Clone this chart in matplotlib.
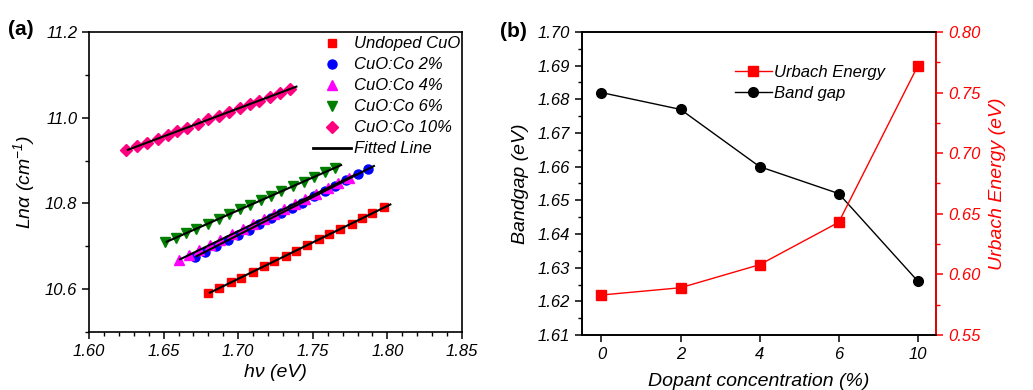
import numpy as np
import matplotlib
matplotlib.use("Agg")
import matplotlib.pyplot as plt
from matplotlib.ticker import MultipleLocator
from matplotlib.lines import Line2D

plt.rcParams['font.family'] = ['Liberation Sans', 'DejaVu Sans']
plt.rcParams['font.style'] = 'italic'
plt.rcParams['mathtext.fontset'] = 'custom'
plt.rcParams['mathtext.rm'] = 'Liberation Sans:italic'
plt.rcParams['mathtext.it'] = 'Liberation Sans:italic'
plt.rcParams['mathtext.default'] = 'it'

# (a) Urbach plots: ln(alpha) vs photon energy
hv_undoped = [1.680, 1.687, 1.695, 1.702, 1.710, 1.717, 1.724, 1.732, 1.739,
              1.746, 1.754, 1.761, 1.768, 1.776, 1.783, 1.790, 1.798]
ln_undoped = [10.590, 10.602, 10.616, 10.627, 10.641, 10.653, 10.665, 10.678, 10.690,
              10.702, 10.716, 10.728, 10.740, 10.753, 10.765, 10.777, 10.791]

hv_co2 = [1.671, 1.678, 1.685, 1.693, 1.700, 1.707, 1.714, 1.722, 1.729,
          1.736, 1.743, 1.751, 1.758, 1.765, 1.772, 1.780, 1.787]
ln_co2 = [10.675, 10.687, 10.700, 10.714, 10.726, 10.739, 10.751, 10.765, 10.778,
          10.790, 10.802, 10.817, 10.829, 10.841, 10.854, 10.868, 10.880]

hv_co4 = [1.660, 1.667, 1.674, 1.681, 1.688, 1.696, 1.703, 1.710, 1.717,
          1.724, 1.731, 1.738, 1.745, 1.752, 1.760, 1.767, 1.774]
ln_co4 = [10.668, 10.680, 10.692, 10.703, 10.715, 10.728, 10.740, 10.752, 10.764,
          10.776, 10.787, 10.799, 10.811, 10.823, 10.836, 10.848, 10.860]

hv_co6 = [1.651, 1.658, 1.665, 1.672, 1.680, 1.687, 1.694, 1.701, 1.708,
          1.715, 1.722, 1.729, 1.737, 1.744, 1.751, 1.758, 1.765]
ln_co6 = [10.709, 10.720, 10.730, 10.741, 10.753, 10.764, 10.775, 10.786, 10.796,
          10.807, 10.818, 10.828, 10.841, 10.851, 10.862, 10.873, 10.883]

hv_co10 = [1.625, 1.632, 1.639, 1.646, 1.653, 1.659, 1.666, 1.673, 1.680,
           1.687, 1.694, 1.701, 1.708, 1.714, 1.721, 1.728, 1.735]
ln_co10 = [10.924, 10.933, 10.942, 10.951, 10.960, 10.968, 10.977, 10.986, 10.996,
           11.005, 11.014, 11.023, 11.032, 11.040, 11.049, 11.058, 11.067]

# (b) band gap and Urbach energy vs dopant
dopant_labels = ['0', '2', '4', '6', '10']
bandgap = [1.682, 1.677, 1.660, 1.652, 1.626]
urbach = [0.583, 0.589, 0.608, 0.643, 0.772]

fig = plt.figure(figsize=(10.33, 3.9), dpi=100)
ax1 = fig.add_axes([0.0862, 0.1487, 0.361, 0.7693])
ax2 = fig.add_axes([0.5631, 0.141, 0.343, 0.777])

series = [
    (hv_undoped, ln_undoped, 's', '#ff0000', 6.0, 'Undoped CuO'),
    (hv_co2, ln_co2, 'o', '#0000ff', 6.5, 'CuO:Co 2%'),
    (hv_co4, ln_co4, '^', '#ff00ff', 7.0, 'CuO:Co 4%'),
    (hv_co6, ln_co6, 'v', '#007f00', 7.0, 'CuO:Co 6%'),
    (hv_co10, ln_co10, 'D', '#ff0080', 6.0, 'CuO:Co 10%'),
]
handles = []
for x, y, m, c, ms, lab in series:
    h, = ax1.plot(x, y, ls='none', marker=m, color=c, ms=ms, label=lab)
    handles.append(h)
for x, y, m, c, ms, lab in series:
    k, b = np.polyfit(x, y, 1)
    xf = np.array([x[0] + 0.001, x[-1] + 0.004])
    ax1.plot(xf, k * xf + b, color='black', lw=1.5)
handles.append(Line2D([], [], color='black', lw=2))
labels = [s[5] for s in series] + ['Fitted Line']

ax1.set_xlim(1.60, 1.85)
ax1.set_ylim(10.5, 11.2)
ax1.xaxis.set_major_locator(MultipleLocator(0.05))
ax1.xaxis.set_minor_locator(MultipleLocator(0.01))
ax1.yaxis.set_major_locator(MultipleLocator(0.2))
ax1.yaxis.set_minor_locator(MultipleLocator(0.1))
ax1.xaxis.set_major_formatter(plt.FormatStrFormatter('%.2f'))
ax1.yaxis.set_major_formatter(plt.FormatStrFormatter('%.1f'))
ax1.set_xlabel('hν (eV)', fontsize=14, labelpad=4)
ax1.set_ylabel('Lnα (cm$^{-1}$)', fontsize=14, labelpad=6)
ax1.legend(handles, labels, loc='upper left', bbox_to_anchor=(0.60, 0.985),
           frameon=False, fontsize=12, handlelength=2.3, handletextpad=0.15,
           labelspacing=0.36, borderpad=0, borderaxespad=0)

# panel b
pos = np.arange(len(dopant_labels))
l1, = ax2.plot(pos, bandgap, color='black', lw=1, marker='o', ms=7, label='Band gap')
ax3 = ax2.twinx()
ax3.set_position(ax2.get_position())
l2, = ax3.plot(pos, urbach, color='#ff0000', lw=1, marker='s', ms=6.5, label='Urbach Energy')

ax2.set_xlim(-0.25, 4.23)
ax2.set_xticks(pos)
ax2.set_xticklabels(dopant_labels)
ax2.set_ylim(1.61, 1.70)
ax2.yaxis.set_major_locator(MultipleLocator(0.01))
ax2.yaxis.set_minor_locator(MultipleLocator(0.005))
ax2.yaxis.set_major_formatter(plt.FormatStrFormatter('%.2f'))
ax3.set_ylim(0.55, 0.80)
ax3.yaxis.set_major_locator(MultipleLocator(0.05))
ax3.yaxis.set_minor_locator(MultipleLocator(0.025))
ax3.yaxis.set_major_formatter(plt.FormatStrFormatter('%.2f'))
ax2.set_xlabel('Dopant concentration (%)', fontsize=14, labelpad=8)
ax2.set_ylabel('Bandgap (eV)', fontsize=14, labelpad=6)
ax3.set_ylabel('Urbach Energy (eV)', fontsize=14, color='#ff0000', labelpad=6)
ax3.spines['right'].set_color('#ff0000')
ax3.tick_params(axis='y', which='both', colors='#ff0000')
ax2.legend([l2, l1], ['Urbach Energy', 'Band gap'], loc='upper left',
           bbox_to_anchor=(0.433, 0.89), frameon=False, fontsize=12,
           handlelength=2.2, handletextpad=0.15, labelspacing=0.33,
           borderpad=0, borderaxespad=0)

for ax in (ax1, ax2, ax3):
    for sp in ax.spines.values():
        sp.set_linewidth(1.2)
    ax.tick_params(which='major', direction='out', length=5, width=1.1, labelsize=12)
    ax.tick_params(which='minor', direction='out', length=3, width=1.0)
    for t in ax.get_xticklabels() + ax.get_yticklabels():
        t.set_fontstyle('italic')
ax2.tick_params(axis='x', which='minor', bottom=False)
ax3.spines['right'].set_color('#ff0000')

fig.text(0.008, 0.925, '(a)', fontsize=15, fontweight='bold', fontstyle='normal', va='center')
fig.text(0.484, 0.92, '(b)', fontsize=15, fontweight='bold', fontstyle='normal', va='center')

fig.savefig('out.png', dpi=100)
